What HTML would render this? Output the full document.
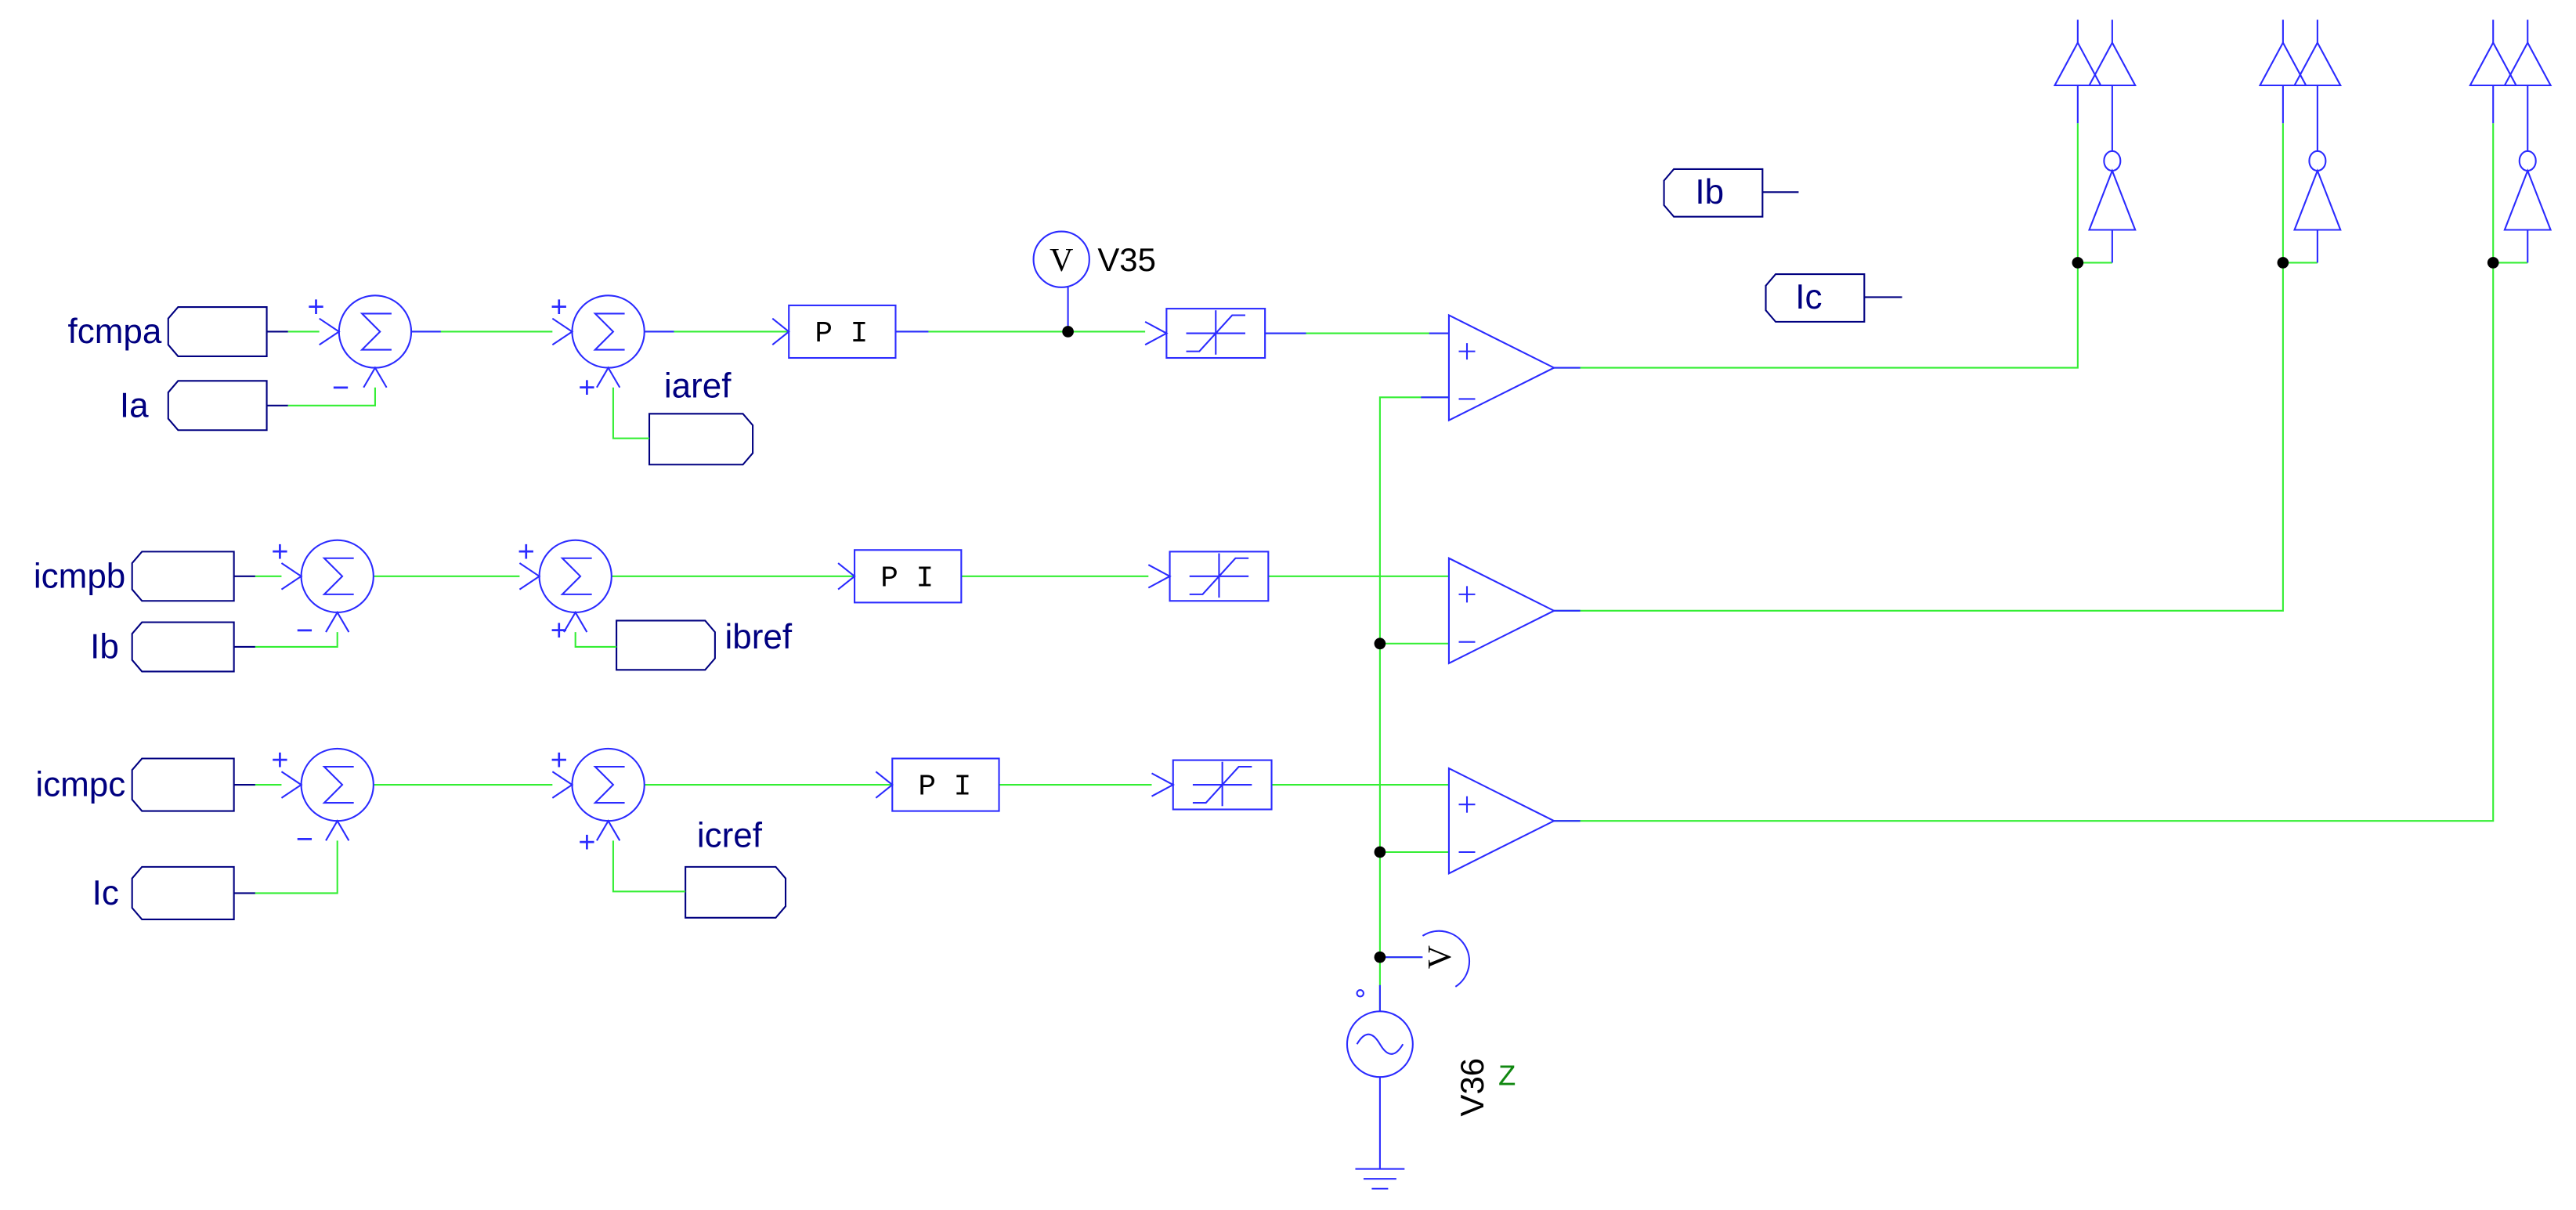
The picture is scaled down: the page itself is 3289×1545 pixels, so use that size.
<!DOCTYPE html>
<html><head><meta charset="utf-8"><style>
html,body{margin:0;padding:0;background:#fff;}
svg{display:block}
text{font-family:"Liberation Sans",sans-serif;}
</style></head><body>
<svg width="3289" height="1545" viewBox="0 0 1568 737" xmlns="http://www.w3.org/2000/svg">
<defs>
<g id="sum" fill="none" stroke="#2b2bff" stroke-width="1">
<circle cx="0" cy="0" r="22"/>
<polyline points="10,-11 -8,-11 3,0 -8,11 10,11"/>
<polyline points="-34,-8 -22,0 -34,8"/>
<polyline points="-7,34 0,22 7,34"/>
</g>
<g id="lim" fill="none" stroke="#2b2bff" stroke-width="1">
<rect x="0" y="-15" width="60" height="30"/>
<polyline points="-13,-7 0,0 -13,7"/>
<line x1="12" y1="0" x2="48" y2="0"/>
<line x1="30" y1="-14" x2="30" y2="13"/>
<polyline points="12,11 20,11 40,-11 48,-11"/>
</g>
<g id="cmp" fill="none" stroke="#2b2bff" stroke-width="1">
<polygon points="0,-32 0,32 64,0"/>
<line x1="6" y1="-10" x2="16" y2="-10"/><line x1="11" y1="-15" x2="11" y2="-5"/>
<line x1="6" y1="19" x2="16" y2="19"/>
</g>
<g id="gate" fill="none" stroke="#2b2bff" stroke-width="1">
<line x1="0" y1="12" x2="0" y2="26"/><line x1="21" y1="12" x2="21" y2="26"/>
<polygon points="0,26 -14,52 14,52"/><polygon points="21,26 7,52 35,52"/>
<line x1="0" y1="52" x2="0" y2="75"/>
<line x1="21" y1="52" x2="21" y2="92"/>
<ellipse cx="21" cy="98" rx="5" ry="6"/>
<polygon points="21,104 7,140 35,140"/>
<line x1="21" y1="140" x2="21" y2="160"/>
</g>
<g id="gatew" fill="none" stroke="#33ee33" stroke-width="1">
<line x1="0" y1="75" x2="0" y2="160"/><line x1="0" y1="160" x2="21" y2="160"/>
</g>
</defs>

<g fill="none" stroke-width="1">
<g stroke="#000080">
<polygon points="108,187 162,187 162,217 108,217 102,210 102,194"/>
<polygon points="108,232 162,232 162,262 108,262 102,255 102,239"/>
<polygon points="86,336 142,336 142,366 86,366 80,359 80,343"/>
<polygon points="86,379 142,379 142,409 86,409 80,402 80,386"/>
<polygon points="86,462 142,462 142,494 86,494 80,487 80,469"/>
<polygon points="86,528 142,528 142,560 86,560 80,553 80,535"/>
<polygon points="1019,103 1073,103 1073,132 1019,132 1013,125 1013,110"/>
<polygon points="1081,167 1135,167 1135,196 1081,196 1075,189 1075,174"/>
<polygon points="395,252 452,252 458,259 458,276 452,283 395,283"/>
<polygon points="375,378 429,378 435,385 435,401 429,408 375,408"/>
<polygon points="417,528 472,528 478,535 478,552 472,559 417,559"/>
<line x1="162" y1="202" x2="175" y2="202"/><line x1="162" y1="247" x2="175" y2="247"/>
<line x1="142" y1="351" x2="155" y2="351"/><line x1="142" y1="394" x2="155" y2="394"/>
<line x1="142" y1="478" x2="155" y2="478"/><line x1="142" y1="544" x2="155" y2="544"/>
<line x1="1073" y1="117" x2="1095" y2="117"/><line x1="1135" y1="181" x2="1158" y2="181"/>
</g>
<g stroke="#33ee33">
<polyline points="175,202 194,202"/>
<polyline points="175,247 228,247 228,236"/>
<polyline points="250,202 336,202"/>
<polyline points="392,202 480,202"/>
<polyline points="373,236 373,267 395,267"/>
<polyline points="545,202 697,202"/>
<polyline points="770,203 882,203"/>
<polyline points="945,224 1265,224 1265,160"/>
<polyline points="155,351 171,351"/>
<polyline points="155,394 205,394 205,385"/>
<polyline points="227,351 316,351"/>
<polyline points="372,351 520,351"/>
<polyline points="350,385 350,394 375,394"/>
<polyline points="585,351 699,351"/>
<polyline points="772,351 882,351"/>
<polyline points="945,372 1390,372 1390,160"/>
<polyline points="155,478 171,478"/>
<polyline points="155,544 205,544 205,512"/>
<polyline points="227,478 336,478"/>
<polyline points="392,478 543,478"/>
<polyline points="373,512 373,543 417,543"/>
<polyline points="608,478 701,478"/>
<polyline points="774,478 882,478"/>
<polyline points="945,500 1518,500 1518,160"/>
<polyline points="882,242 840,242 840,616"/>
<line x1="840" y1="392" x2="882" y2="392"/>
<line x1="840" y1="519" x2="882" y2="519"/>
<line x1="840" y1="583" x2="865" y2="583"/>
</g>
<g stroke="#2b2bff">
<line x1="882" y1="203" x2="870" y2="203"/><line x1="882" y1="242" x2="865" y2="242"/>
<line x1="945" y1="224" x2="962" y2="224"/>
<line x1="945" y1="372" x2="962" y2="372"/><line x1="945" y1="500" x2="962" y2="500"/>
<line x1="250" y1="202" x2="268" y2="202"/><line x1="392" y1="202" x2="410" y2="202"/>
<line x1="545" y1="202" x2="565" y2="202"/><line x1="770" y1="203" x2="795" y2="203"/>
<polyline points="470,194 480,202 470,210"/>
<polyline points="510,343 520,351 510,359"/>
<polyline points="533,470 543,478 533,486"/>
</g>
</g>

<use href="#sum" x="228" y="202"/><use href="#sum" x="370" y="202"/>
<use href="#sum" x="205" y="351"/><use href="#sum" x="350" y="351"/>
<use href="#sum" x="205" y="478"/><use href="#sum" x="370" y="478"/>
<g fill="none" stroke="#2b2bff" stroke-width="1">
<rect x="480" y="186" width="65" height="32"/>
<rect x="520" y="335" width="65" height="32"/>
<rect x="543" y="462" width="65" height="32"/>
</g>
<g font-size="18" fill="#000" text-anchor="middle">
<text x="512" y="208" style="font-family:'Liberation Mono',monospace">P I</text>
<text x="552" y="357" style="font-family:'Liberation Mono',monospace">P I</text>
<text x="575" y="484" style="font-family:'Liberation Mono',monospace">P I</text>
</g>
<use href="#lim" x="710" y="203"/><use href="#lim" x="712" y="351"/><use href="#lim" x="714" y="478"/>
<use href="#cmp" x="882" y="224"/><use href="#cmp" x="882" y="372"/><use href="#cmp" x="882" y="500"/>
<use href="#gatew" x="1265" y="0"/><use href="#gatew" x="1390" y="0"/><use href="#gatew" x="1518" y="0"/>
<use href="#gate" x="1265" y="0"/><use href="#gate" x="1390" y="0"/><use href="#gate" x="1518" y="0"/>

<g fill="#2b2bff" font-size="18" text-anchor="middle">
<text x="192" y="193">+</text><text x="207" y="242">−</text>
<text x="340" y="193">+</text><text x="357" y="242">+</text>
<text x="170" y="342">+</text><text x="185" y="390">−</text>
<text x="320" y="342">+</text><text x="340" y="390">+</text>
<text x="170" y="469">+</text><text x="185" y="517">−</text>
<text x="340" y="469">+</text><text x="357" y="519">+</text>
</g>

<g fill="none" stroke="#2b2bff" stroke-width="1">
<circle cx="646" cy="158" r="17"/>
<line x1="650" y1="175" x2="650" y2="202"/>
<path d="M 866 570 A 18 18 0 1 1 886 601"/>
<line x1="840" y1="583" x2="866" y2="583"/>
<circle cx="840" cy="636" r="20"/>
<path d="M 826 636 Q 833 624 840 636 Q 847 648 854 636"/>
<line x1="840" y1="616" x2="840" y2="600"/>
<line x1="840" y1="656" x2="840" y2="712"/>
<line x1="825" y1="712" x2="855" y2="712"/>
<line x1="830" y1="718" x2="850" y2="718"/>
<line x1="835" y1="724" x2="845" y2="724"/>
<circle cx="828" cy="605" r="2"/>
</g>
<text x="646" y="165" font-size="20" fill="#000" text-anchor="middle" style="font-family:'Liberation Serif',serif">V</text>
<text transform="translate(876,583) rotate(-90)" font-size="20" fill="#000" text-anchor="middle" dy="7" style="font-family:'Liberation Serif',serif">V</text>
<g fill="#000">
<circle cx="650" cy="202" r="3.5"/>
<circle cx="840" cy="392" r="3.5"/><circle cx="840" cy="519" r="3.5"/><circle cx="840" cy="583" r="3.5"/>
<circle cx="1265" cy="160" r="3.5"/><circle cx="1390" cy="160" r="3.5"/><circle cx="1518" cy="160" r="3.5"/>
</g>
<text x="668" y="165" font-size="20" fill="#000">V35</text>
<text transform="translate(903,680) rotate(-90)" font-size="20" fill="#000">V36</text>
<text x="912" y="661" font-size="18" fill="#118811" style="font-family:'Liberation Mono',monospace">Z</text>

<g fill="#000080" font-size="21" text-anchor="end">
<text x="98" y="209">fcmpa</text>
<text x="90" y="254">Ia</text>
<text x="76" y="358">icmpb</text>
<text x="72" y="401">Ib</text>
<text x="76" y="485">icmpc</text>
<text x="72" y="551">Ic</text>
</g>
<g fill="#000080" font-size="21">
<text x="404" y="242">iaref</text>
<text x="441" y="395">ibref</text>
<text x="424" y="516">icref</text>
<text x="1032" y="124">Ib</text>
<text x="1093" y="188">Ic</text>
</g>
</svg>
</body></html>
